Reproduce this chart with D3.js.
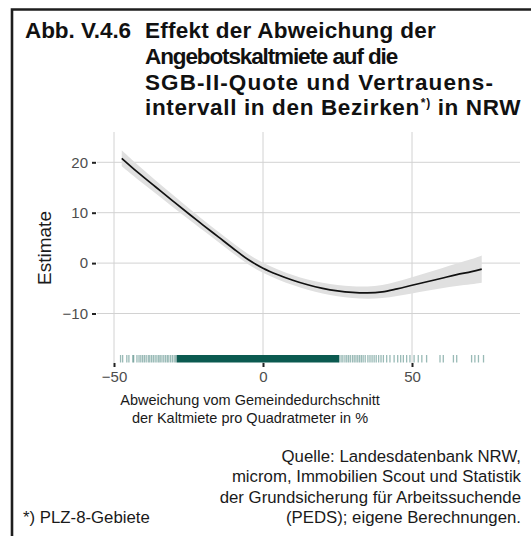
<!DOCTYPE html>
<html><head><meta charset="utf-8">
<script src="https://cdn.jsdelivr.net/npm/d3@7"></script>
<style>
html,body{margin:0;padding:0;background:#fff;}
svg{display:block;font-family:"Liberation Sans",Arial,Helvetica,sans-serif;}
</style></head>
<body>
<svg id="chart" width="531" height="536"></svg>
<script>
// ---- data ----
const titleLabel = "Abb. V.4.6";
const titleLines = ["Effekt der Abweichung der", "Angebotskaltmiete auf die", "SGB-II-Quote und Vertrauens-", "intervall in den Bezirken"];
const titleNote = "*)";
const titleEnd = " in NRW";
const xTicks = [-50, 0, 50];
const yTicks = [-10, 0, 10, 20];
const curveX = [-47.4,-42,-36,-30,-24.5,-20,-15,-10,-5,0,5,10,15,20,25,30,35,40,45,50,55,60,65,70,73.4];
const curveY = [20.8,18.0,15.1,12.2,9.6,7.5,5.2,2.9,0.7,-1.0,-2.3,-3.4,-4.3,-5.0,-5.5,-5.8,-5.9,-5.7,-5.1,-4.4,-3.7,-3.0,-2.3,-1.7,-1.2];
const ciHalf = [1.6,1.45,1.3,1.2,1.1,1.05,1.0,1.0,1.0,1.0,1.0,1.0,1.0,1.05,1.1,1.15,1.2,1.3,1.45,1.6,1.8,2.0,2.2,2.5,2.7];
const rugTicks = [-47.8,-47.1,-45.7,-45.0,-43.7,-43.4,-42.3,-41.6,-41.0,-40.4,-39.8,-39.2,-38.5,-38.0,-37.4,-36.8,-36.2,-35.6,-35.0,-34.5,-33.9,-33.3,-32.7,-32.1,-31.6,-31.0,-30.4,-29.8,-29.3,
  25.6,26.2,26.8,27.5,28.1,28.7,29.3,30.0,30.6,31.2,31.8,32.4,33.0,33.6,34.3,35.2,35.9,36.6,37.3,38.0,38.8,39.6,40.4,41.5,42.6,44.0,45.2,46.2,47.1,48.2,49.3,50.7,52.1,53.3,54.9,59.4,60.5,63.9,65.0,70.0,71.1,72.3,74.0];
const rugDense = [-29.0, 25.5];
const yTitle = "Estimate";
const xTitle = ["Abweichung vom Gemeindedurchschnitt", "der Kaltmiete pro Quadratmeter in %"];
const sourceLines = ["Quelle: Landesdatenbank NRW,", "microm, Immobilien Scout und Statistik", "der Grundsicherung für Arbeitssuchende", "(PEDS); eigene Berechnungen."];
const footnote = "*) PLZ-8-Gebiete";

// ---- layout ----
const svg = d3.select("#chart");
const panel = {left: 97, right: 520, top: 132, bottom: 363};
const x = d3.scaleLinear().domain([-50, 50]).range([114, 412]);
const y = d3.scaleLinear().domain([-10, 20]).range([313.5, 162.3]);

svg.append("rect").attr("width", 531).attr("height", 536).attr("fill", "#fff");

// frame (left and top)
svg.append("path").attr("d", "M12,536 L12,9.5 L531,9.5").attr("fill", "none").attr("stroke", "#1e1e1e").attr("stroke-width", 2.6);

// title: letter-spacing tuned so each line spans the reference width
function titleText(x0, yb, target, build) {
  const t = svg.append("text").attr("x", x0).attr("y", yb)
    .attr("font-weight", "bold").attr("font-size", "22.5px").attr("fill", "#111");
  build(t);
  const w = t.node().getComputedTextLength();
  const n = t.text().length;
  t.attr("letter-spacing", ((target - w) / n).toFixed(2) + "px");
}
titleText(25, 38, 106, t => t.text(titleLabel));
const baselines = [38, 64, 90, 115];
const lineLens = [291, 252, 349, 375];
titleLines.forEach((s, i) => titleText(145, baselines[i], lineLens[i], t => {
  t.append("tspan").text(s);
  if (i === 3) {
    t.append("tspan").attr("font-size", "12px").attr("dy", -8).attr("dx", 1).text(titleNote);
    t.append("tspan").attr("dy", 8).text(titleEnd);
  }
}));

// gridlines
const grid = svg.append("g").attr("stroke", "#d2d2d2").attr("stroke-width", 1);
yTicks.forEach(v => grid.append("line").attr("x1", panel.left).attr("x2", panel.right).attr("y1", y(v)).attr("y2", y(v)));
xTicks.forEach(v => grid.append("line").attr("y1", panel.top).attr("y2", panel.bottom).attr("x1", x(v)).attr("x2", x(v)));

// confidence band
const pts = curveX.map((v, i) => ({x: v, y: curveY[i], lo: curveY[i] - ciHalf[i], hi: curveY[i] + ciHalf[i]}));
svg.append("path").datum(pts)
  .attr("d", d3.area().x(d => x(d.x)).y0(d => y(d.lo)).y1(d => y(d.hi)).curve(d3.curveBasis))
  .attr("fill", "#e0e0e0");
svg.append("path").datum(pts)
  .attr("d", d3.line().x(d => x(d.x)).y(d => y(d.y)).curve(d3.curveCatmullRom))
  .attr("fill", "none").attr("stroke", "#111").attr("stroke-width", 1.7);

// rug
const rugTop = 355, rugBottom = 362.5;
svg.append("rect").attr("x", x(rugDense[0])).attr("width", x(rugDense[1]) - x(rugDense[0]))
  .attr("y", rugTop).attr("height", rugBottom - rugTop).attr("fill", "#0b5a50");
svg.append("g").selectAll("line").data(rugTicks).join("line")
  .attr("x1", d => x(d)).attr("x2", d => x(d)).attr("y1", rugTop).attr("y2", rugBottom)
  .attr("stroke", "#0b5a50").attr("stroke-width", 1.3).attr("stroke-opacity", 0.42);

// axes
const xa = svg.append("g").attr("transform", `translate(0,${panel.bottom})`)
  .call(d3.axisBottom(x).tickValues(xTicks).tickSize(4).tickPadding(4));
const ya = svg.append("g").attr("transform", `translate(96,0)`)
  .call(d3.axisLeft(y).tickValues(yTicks).tickSize(4).tickPadding(4));
[xa, ya].forEach(a => {
  a.select(".domain").remove();
  a.selectAll(".tick line").attr("stroke", "#222").attr("stroke-width", 2);
  a.selectAll(".tick text").attr("fill", "#4d4d4d").attr("font-size", "15px").attr("font-family", "Liberation Sans, Arial, sans-serif");
});

// axis titles
svg.append("text").attr("transform", "translate(44,248) rotate(-90)")
  .attr("text-anchor", "middle").attr("dominant-baseline", "central")
  .attr("font-size", "19px").attr("fill", "#1a1a1a").text(yTitle);
xTitle.forEach((t, i) => svg.append("text").attr("x", 250).attr("y", [405, 423][i])
  .attr("text-anchor", "middle").attr("font-size", "14.5px").attr("fill", "#1a1a1a").text(t));

// source & footnote
sourceLines.forEach((t, i) => svg.append("text").attr("x", 521).attr("y", [462, 482, 503, 523][i])
  .attr("text-anchor", "end").attr("font-size", "16.8px").attr("fill", "#1a1a1a").text(t));
svg.append("text").attr("x", 23).attr("y", 523).attr("font-size", "16.8px").attr("fill", "#1a1a1a").text(footnote);
</script>
</body></html>
